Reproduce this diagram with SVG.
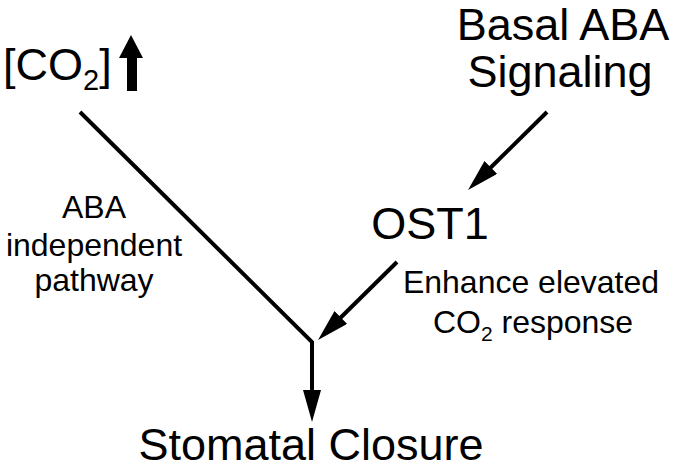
<svg xmlns="http://www.w3.org/2000/svg" width="677" height="470" viewBox="0 0 677 470">
<style>
text{font-family:"Liberation Sans",Arial,sans-serif;fill:#000}
.big{font-size:45px}
.small{font-size:32px;text-anchor:middle}
.edge{stroke:#000;stroke-width:4;fill:none}
</style>
<defs>
<marker id="ah" markerUnits="userSpaceOnUse" markerWidth="32" markerHeight="20" refX="10" refY="9" orient="auto">
<path d="M0,0 L32,9 L0,18 z" fill="#000"/>
</marker>
</defs>
<rect width="677" height="470" fill="#fff"/>
<g id="co2">
<text class="big" x="3" y="80">[CO<tspan font-size="29" dy="10">2</tspan><tspan dy="-10">]</tspan></text>
<polygon points="127,91 137,91 137,58 143,58 131,35 119,58 127,58" fill="#000"/>
</g>
<g id="basal">
<text class="big" x="563" y="40" text-anchor="middle" font-size="44">Basal ABA</text>
<text class="big" x="560" y="87" text-anchor="middle">Signaling</text>
</g>
<g id="ost1">
<text class="big" x="430" y="239" text-anchor="middle">OST1</text>
</g>
<g id="closure">
<text class="big" x="311" y="460" text-anchor="middle" font-size="46">Stomatal Closure</text>
</g>
<g id="labels">
<text class="small" x="94" y="218">ABA</text>
<text class="small" x="94" y="256">independent</text>
<text class="small" x="94" y="291">pathway</text>
<text class="small" x="531" y="293">Enhance elevated</text>
<text class="small" x="533" y="333">CO<tspan font-size="21" dy="8">2</tspan><tspan dy="-8"> response</tspan></text>
</g>
<g id="connectors">
<polyline class="edge" points="80,112 312,342 312,400" marker-end="url(#ah)"/>
<line class="edge" x1="547" y1="112" x2="483.7" y2="174.5" marker-end="url(#ah)"/>
<line class="edge" x1="397" y1="262" x2="333.7" y2="324.5" marker-end="url(#ah)"/>
</g>
</svg>
